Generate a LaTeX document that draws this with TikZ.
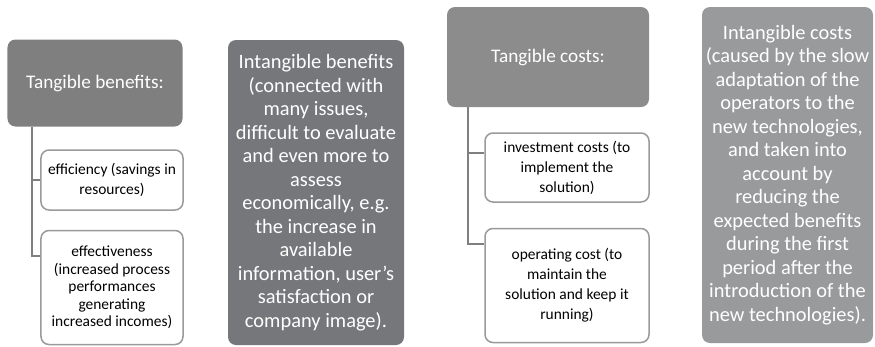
\documentclass[tikz,border=0pt]{standalone}
\usepackage{fontspec}
\setmainfont{Carlito}
\definecolor{headgrey}{HTML}{7F7F7F}
\definecolor{darkgrey}{HTML}{76777B}
\definecolor{midgrey}{HTML}{8C8C8C}
\definecolor{lightgrey}{HTML}{999A9C}
\definecolor{linegrey}{HTML}{7F7F7F}
\definecolor{edgegrey}{HTML}{9A9A9A}
\tikzset{
  head/.style={rounded corners=8bp, text=white, align=center, font=\fontsize{20.5}{23.6}\selectfont, inner sep=0pt},
  title/.style={head, font=\fontsize{19.3}{23}\selectfont},
  item/.style={draw=edgegrey, line width=1.5bp, rounded corners=8bp, fill=white, align=center, font=\fontsize{15.5}{20}\selectfont, inner sep=0pt},
  stem/.style={draw=linegrey, line width=2bp}
}
\begin{document}
\begin{tikzpicture}[x=1bp, y=-1bp]
  \useasboundingbox (0,0) rectangle (875,346);
  \path
    (95,83) node[title, fill=headgrey, minimum width=175bp, minimum height=87bp] (tb) {Tangible benefits:}
    (112,180) node[item, minimum width=142bp, minimum height=60bp] (eff) {efficiency (savings in\\resources)}
    (112,287.5) node[item, minimum width=142bp, minimum height=114bp, font=\fontsize{15.5}{17.6}\selectfont] (efv) {effectiveness\\(increased process\\performances\\generating\\increased incomes)}
    (316,192.5) node[head, fill=darkgrey, minimum width=176bp, minimum height=305bp] (ib) {Intangible benefits\\(connected with\\many issues,\\difficult to evaluate\\and even more to\\assess\\economically, e.g.\\the increase in\\available\\information, user's\\satisfaction or\\company image).}
    (548,57) node[title, fill=midgrey, minimum width=202bp, minimum height=100bp] (tc) {Tangible costs:}
    (567,167.5) node[item, minimum width=164bp, minimum height=69bp] (inv) {investment costs (to\\implement the\\solution)}
    (567,285.5) node[item, minimum width=164bp, minimum height=114bp] (op) {operating cost (to\\maintain the\\solution and keep it\\running)}
    (787.5,175) node[head, fill=lightgrey, minimum width=171bp, minimum height=336bp] (ic) {Intangible costs\\(caused by the slow\\adaptation of the\\operators to the\\new technologies,\\and taken into\\account by\\reducing the\\expected benefits\\during the first\\period after the\\introduction of the\\new technologies).};
  \coordinate (tbroot) at (32,126.5);
  \coordinate (tcroot) at (468,107);
  \begin{scope}[stem]
    \draw (tbroot) |- (eff.west);
    \draw (tbroot) |- (32,256) -- (efv.west |- 0,256);
    \draw (tcroot) |- (inv.west |- 0,153);
    \draw (tcroot) |- (op.west |- 0,244);
  \end{scope}
\end{tikzpicture}
\end{document}
